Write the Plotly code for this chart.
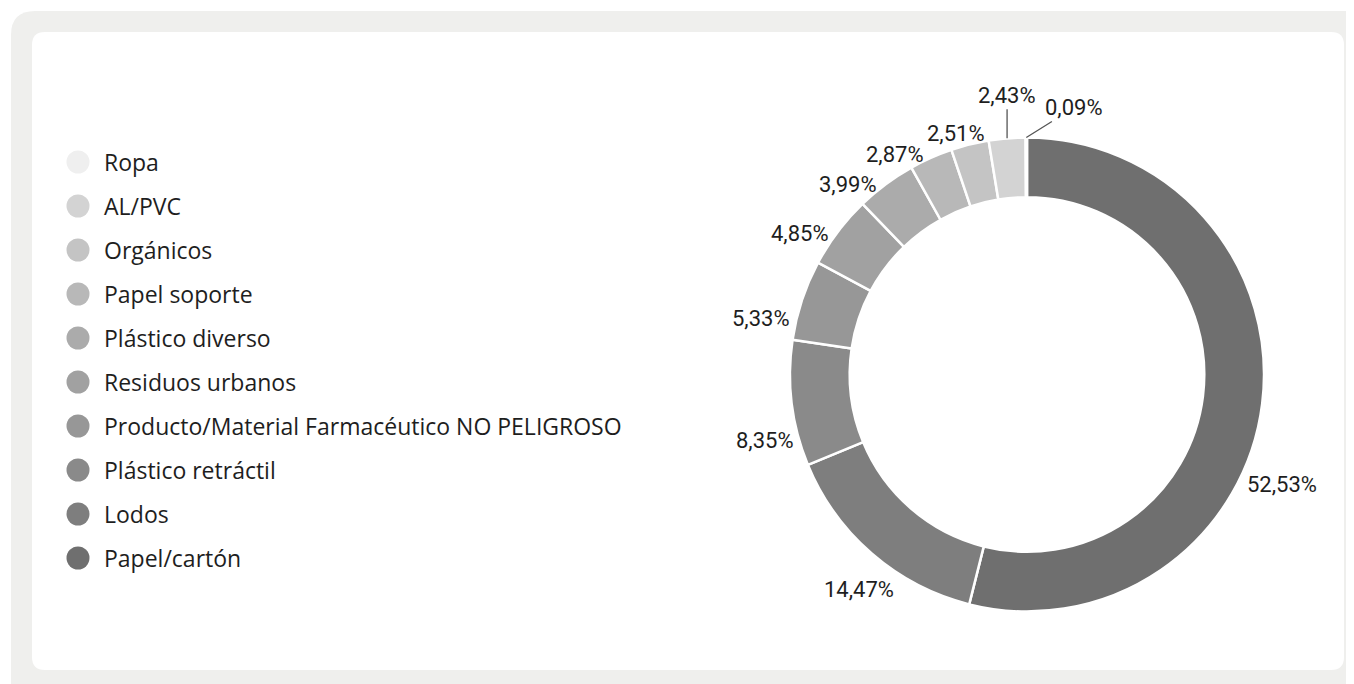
import math
import plotly.graph_objects as go

# ---------------- data ----------------
categories = ["Papel/cartón", "Lodos", "Plástico retráctil",
              "Producto/Material Farmacéutico NO PELIGROSO", "Residuos urbanos",
              "Plástico diverso", "Papel soporte", "Orgánicos", "AL/PVC", "Ropa"]
values = [52.53, 14.47, 8.35, 5.33, 4.85, 3.99, 2.87, 2.51, 2.43, 0.09]
colors = ["#6f6f6f", "#7e7e7e", "#8a8a8a", "#979797", "#a1a1a1",
          "#ababab", "#b8b8b8", "#c4c4c4", "#d3d3d3", "#efefef"]

# ---------------- geometry ----------------
OFF = 8                      # browser body margin
W, H = 1354 - OFF, 684 - OFF  # figure size


def fx(x):
    return x - OFF


def fy(y):
    return y - OFF


def px(x):
    return fx(x) / W


def py(y):
    return 1 - fy(y) / H


def rounded_rect(x0, y0, x1, y1, r):
    p = [
        f"M {px(x0 + r)},{py(y0)}",
        f"L {px(x1 - r)},{py(y0)}",
        f"Q {px(x1)},{py(y0)} {px(x1)},{py(y0 + r)}",
        f"L {px(x1)},{py(y1 - r)}",
        f"Q {px(x1)},{py(y1)} {px(x1 - r)},{py(y1)}",
        f"L {px(x0 + r)},{py(y1)}",
        f"Q {px(x0)},{py(y1)} {px(x0)},{py(y1 - r)}",
        f"L {px(x0)},{py(y0 + r)}",
        f"Q {px(x0)},{py(y0)} {px(x0 + r)},{py(y0)}",
        "Z",
    ]
    return " ".join(p)


fig = go.Figure()

# ---------------- donut ----------------
cx, cy, R = 1027, 374.5, 237

fig.add_trace(go.Pie(
    labels=categories,
    values=values,
    sort=False,
    direction="clockwise",
    rotation=0,
    hole=0.748,
    marker=dict(colors=colors, line=dict(color="white", width=2.5)),
    textinfo="none",
    domain=dict(x=[px(cx - R), px(cx + R)], y=[py(cy + R), py(cy - R)]),
    showlegend=False,
    hoverinfo="label+value",
))

# label placement style: offset (px) from the slice's outer mid-point;
# "arrow" entries get a leader line
label_style = {
    "Papel/cartón": (20, 81, False),
    "Lodos": (-13, 36, False),
    "Plástico retráctil": (-27, 37, False),
    "Producto/Material Farmacéutico NO PELIGROSO": (-41, 18, False),
    "Residuos urbanos": (-38, 2, False),
    "Plástico diverso": (-38, 0, False),
    "Papel soporte": (-36, -3, False),
    "Orgánicos": (-14, -11, False),
    "AL/PVC": (0, -43, True),
    "Ropa": (48, -30, True),
}
label_font = dict(family="Roboto", size=22, color="#1e1e1e")

total = sum(values)
cum = 0.0
for c, v in zip(categories, values):
    mid = (cum + v / 2) / total * 2 * math.pi
    cum += v
    tipx = cx + R * math.sin(mid)
    tipy = cy - R * math.cos(mid)
    dx, dy, arrow = label_style[c]
    txt = f"{v:.2f}".replace(".", ",") + "%"
    if arrow:
        fig.add_annotation(
            x=fx(tipx), y=fy(tipy), xref="x", yref="y", text=txt,
            showarrow=True, arrowhead=0, arrowwidth=1.3, arrowcolor="#555555",
            ax=dx, ay=dy, standoff=0, font=label_font,
        )
    else:
        fig.add_annotation(
            x=fx(tipx), y=fy(tipy), xref="x", yref="y", text=txt,
            showarrow=False, xshift=dx, yshift=-dy, font=label_font,
        )

# ---------------- custom legend (circles, reversed order) ----------------
leg_order = list(range(len(categories)))[::-1]
y0, step = 162, 44.0
leg_y = [fy(y0 + i * step) for i in range(len(leg_order))]
fig.add_trace(go.Scatter(
    x=[fx(78)] * len(leg_order),
    y=leg_y,
    mode="markers",
    marker=dict(size=23, color=[colors[k] for k in leg_order], line=dict(width=0)),
    showlegend=False,
    hoverinfo="skip",
    cliponaxis=False,
))
for i, k in enumerate(leg_order):
    fig.add_annotation(
        x=fx(102), y=leg_y[i], xref="x", yref="y",
        text=categories[k], showarrow=False,
        xanchor="left", yanchor="middle",
        font=dict(family="Open Sans", size=23, color="#1e1e1e"),
    )

fig.update_layout(
    width=W, height=H,
    margin=dict(l=0, r=0, t=0, b=0),
    paper_bgcolor="white",
    plot_bgcolor="rgba(0,0,0,0)",
    separators=",.",
    xaxis=dict(range=[0, W], visible=False, domain=[0, 1], fixedrange=True),
    yaxis=dict(range=[H, 0], visible=False, domain=[0, 1], fixedrange=True),
    shapes=[
        dict(type="path", xref="paper", yref="paper",
             path=rounded_rect(11, 11, 1380, 710, 24),
             fillcolor="#efefed", line=dict(width=0), layer="below"),
        dict(type="path", xref="paper", yref="paper",
             path=rounded_rect(32, 32, 1344, 670, 13),
             fillcolor="white", line=dict(width=0), layer="below"),
    ],
)

fig.write_html("out.html")
